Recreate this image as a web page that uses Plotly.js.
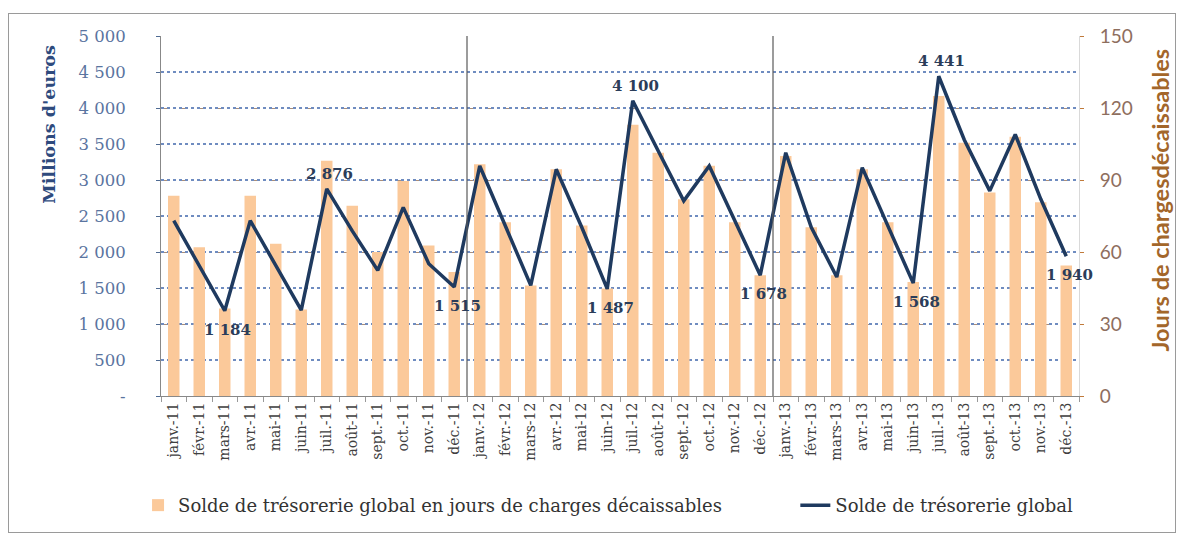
<!DOCTYPE html>
<html>
<head>
<meta charset="utf-8">
<script src="https://cdn.plot.ly/plotly-3.0.1.min.js"></script>
<style>
  html, body { margin: 0; padding: 0; background: #fff; }
  #wrap { position: relative; width: 1181px; height: 536px; }
  #chart { width: 1181px; height: 536px; }
  #frame { position: absolute; left: 8px; top: 13px; width: 1166px; height: 518px; border: 1px solid #9a9a9a; pointer-events: none; }
</style>
</head>
<body>
<div id="wrap"><div id="chart"></div><div id="frame"></div></div>
<script>
// ---- data ----
const months = [
  'janv.-11','févr.-11','mars-11','avr.-11','mai-11','juin-11','juil.-11','août-11','sept.-11','oct.-11','nov.-11','déc.-11',
  'janv.-12','févr.-12','mars-12','avr.-12','mai-12','juin-12','juil.-12','août-12','sept.-12','oct.-12','nov.-12','déc.-12',
  'janv.-13','févr.-13','mars-13','avr.-13','mai-13','juin-13','juil.-13','août-13','sept.-13','oct.-13','nov.-13','déc.-13'
];
// Solde de trésorerie global (millions d'euros)
const soldeGlobal = [
  2435, 1810, 1184, 2435, 1810, 1192, 2876, 2293, 1745, 2620, 1837, 1515,
  3195, 2366, 1537, 3149, 2344, 1487, 4100, 3402, 2711, 3195, 2435, 1678,
  3379, 2344, 1653, 3172, 2366, 1568, 4441, 3560, 2849, 3632, 2735, 1940
];
// Solde en jours de charges décaissables
const soldeJours = [
  83.4, 62.0, 36.5, 83.4, 63.4, 36.0, 98.0, 79.3, 60.0, 89.6, 62.7, 51.7,
  96.6, 72.4, 46.0, 94.5, 71.0, 44.8, 113.0, 101.4, 82.0, 95.9, 72.4, 50.3,
  100.0, 70.3, 50.3, 94.5, 72.4, 47.5, 125.0, 105.5, 84.8, 108.0, 80.7, 54.4
];
const labelledMonths = ['mars-11','juil.-11','déc.-11','juin-12','juil.-12','déc.-12','juin-13','juil.-13','déc.-13'];
const leftTickVals = [0, 500, 1000, 1500, 2000, 2500, 3000, 3500, 4000, 4500, 5000];
const leftTickText = ['-', '500', '1 000', '1 500', '2 000', '2 500', '3 000', '3 500', '4 000', '4 500', '5 000'];
const rightTickVals = [0, 30, 60, 90, 120, 150];
const yearBreaks = [11.5, 23.5];
const legendNames = ['Solde de trésorerie global en jours de charges décaissables', 'Solde de trésorerie global'];

// ---- helpers ----
function fmt(v) { return String(v).replace(/\B(?=(\d{3})+(?!\d))/g, '\u00a0'); }

const serif = 'DejaVu Serif, Liberation Serif, serif';

const barTrace = {
  type: 'bar', x: months, y: soldeJours, name: legendNames[0],
  xaxis: 'x', yaxis: 'y', legend: 'legend',
  marker: { color: '#FBC99A' }, width: 0.45,
  hoverinfo: 'skip'
};
const lineTrace = {
  type: 'scatter', mode: 'lines', x: months, y: soldeGlobal, name: legendNames[1],
  xaxis: 'x', yaxis: 'y2', legend: 'legend2',
  line: { color: '#1F3A5F', width: 3.5 },
  cliponaxis: false, hoverinfo: 'skip'
};

const dataLabels = months.map((m, i) => ({ m, i })).filter(o => labelledMonths.includes(o.m)).map(o => {
  const top = o.m.startsWith('juil');
  return {
    x: o.m, y: soldeGlobal[o.i], xref: 'x', yref: 'y2',
    text: fmt(soldeGlobal[o.i]), showarrow: false,
    xanchor: 'center', yanchor: 'middle',
    yshift: top ? 15 : -19, xshift: 3,
    font: { family: serif, size: 15, color: '#2B3D5A', weight: 'bold' }
  };
});

const legendFont = { family: serif, size: 18, color: '#333' };

const layout = {
  width: 1181, height: 536,
  margin: { l: 161, r: 102, t: 36, b: 138 },
  paper_bgcolor: '#ffffff', plot_bgcolor: '#ffffff',
  showlegend: true,
  xaxis: {
    type: 'category', range: [-0.5, 35.5], automargin: false,
    tickangle: -90, ticks: 'outside', tickson: 'boundaries', ticklen: 5, tickcolor: '#999',
    showline: true, linecolor: '#888', linewidth: 1, showgrid: false,
    tickfont: { family: serif, size: 14, color: '#404040' }
  },
  // right axis: days (bars)
  yaxis: {
    side: 'right', range: [0, 150], tickvals: rightTickVals, automargin: false,
    showgrid: true, gridcolor: '#A98E7A', griddash: 'dashdot', gridwidth: 1,
    showline: true, linecolor: '#d9d9d9', zeroline: false,
    ticks: 'outside', ticklen: 4, tickcolor: '#C07A3A',
    ticklabelstandoff: 12,
    tickfont: { family: 'Lato, sans-serif', size: 19, color: '#8E6E5E' }
  },
  // left axis: millions (line)
  yaxis2: {
    overlaying: 'y', side: 'left', range: [0, 5000], automargin: false,
    tickvals: leftTickVals, ticktext: leftTickText,
    showgrid: true, gridcolor: '#6F8CC0', griddash: 'dot', gridwidth: 1.3,
    showline: true, linecolor: '#888', zeroline: false,
    ticks: 'outside', ticklen: 4, tickcolor: '#4F6B93',
    ticklabelstandoff: 27,
    tickfont: { family: serif, size: 16.5, color: '#5A74A0' }
  },
  legend: {
    orientation: 'h', x: -0.025, xanchor: 'left', y: -0.304, yanchor: 'middle',
    font: legendFont, traceorder: 'normal'
  },
  legend2: {
    orientation: 'h', x: 0.691, xanchor: 'left', y: -0.304, yanchor: 'middle',
    font: legendFont, traceorder: 'normal'
  },
  shapes: yearBreaks.map(b => ({
    type: 'line', xref: 'x', yref: 'paper', x0: b, x1: b, y0: 0, y1: 1,
    line: { color: '#5a5a5a', width: 1.2 }, layer: 'above'
  })),
  annotations: dataLabels.concat([
    { text: "Millions d'euros", xref: 'paper', yref: 'paper', x: -0.123, y: 0.754,
      textangle: -90, showarrow: false, xanchor: 'center', yanchor: 'middle',
      font: { family: serif, size: 17.5, color: '#2E4A7D', weight: 'bold' } },
    { text: 'Jours de chargesdécaissables', xref: 'paper', yref: 'paper', x: 1.088, y: 0.545,
      textangle: -90, showarrow: false, xanchor: 'center', yanchor: 'middle',
      font: { family: 'Lato, sans-serif', size: 23.5, color: '#A3662A', weight: 'bold' } }
  ])
};

Plotly.newPlot('chart', [barTrace, lineTrace], layout, { staticPlot: true, displayModeBar: false });
</script>
</body>
</html>
